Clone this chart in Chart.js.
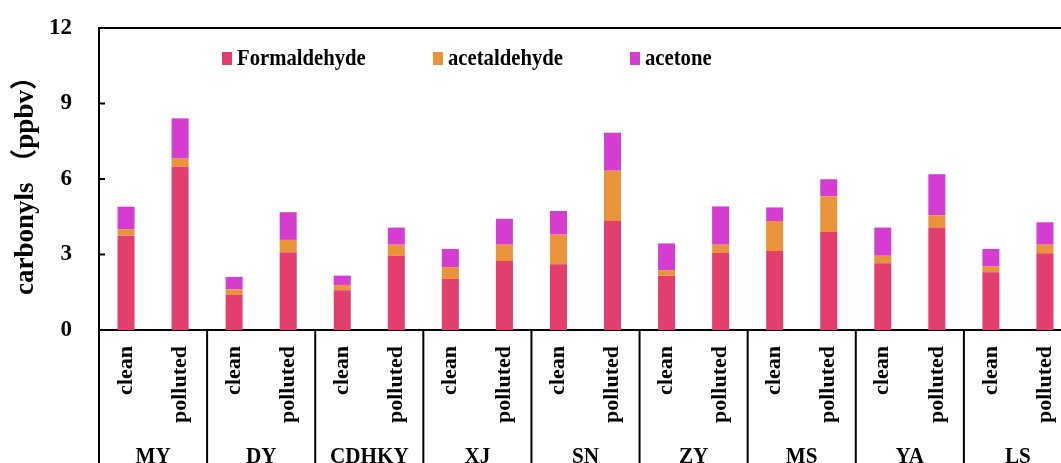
<!DOCTYPE html>
<html>
<head>
<meta charset="utf-8">
<script src="https://cdn.jsdelivr.net/npm/chart.js@4/dist/chart.umd.min.js"></script>
<style>
  html, body { margin: 0; padding: 0; background: #fff; overflow: hidden; }
  #wrap { width: 1072px; height: 463px; }
</style>
</head>
<body>
<div id="wrap"><canvas id="c" width="1072" height="463"></canvas></div>
<script>
// Sampling sites and the two conditions measured at each
const sites = ['MY', 'DY', 'CDHKY', 'XJ', 'SN', 'ZY', 'MS', 'YA', 'LS'];
const conditions = ['clean', 'polluted'];

// Mixing ratios (ppbv), ordered site by site: clean, polluted
const formaldehyde = [3.75, 6.50, 1.39, 3.09, 1.58, 2.95, 2.03, 2.74, 2.61, 4.33, 2.16, 3.06, 3.14, 3.89, 2.65, 4.07, 2.29, 3.05];
const acetaldehyde = [0.26, 0.31, 0.23, 0.49, 0.21, 0.44, 0.47, 0.65, 1.18, 2.00, 0.22, 0.33, 1.19, 1.42, 0.30, 0.49, 0.23, 0.34];
const acetone      = [0.89, 1.60, 0.49, 1.10, 0.37, 0.68, 0.72, 1.03, 0.94, 1.51, 1.06, 1.52, 0.54, 0.68, 1.12, 1.63, 0.70, 0.89];

// Y axis ticks
const yTicks = [0, 3, 6, 9, 12];

const labels = [];
sites.forEach(() => conditions.forEach(c => labels.push(c)));

const FONT = "'Liberation Serif', 'Times New Roman', 'Noto Sans CJK SC', serif";

// Frame, group separators, inner ticks, group names and the legend
const framePlugin = {
  id: 'frame',
  afterDraw(chart) {
    const ctx = chart.ctx;
    const area = chart.chartArea;
    const xs = chart.scales.x;
    const ys = chart.scales.y;
    const H = chart.height;
    ctx.save();
    ctx.strokeStyle = '#000';
    ctx.lineWidth = 2;
    // top border
    ctx.beginPath();
    ctx.moveTo(area.left, area.top);
    ctx.lineTo(chart.width, area.top);
    ctx.stroke();
    // left axis continues down through the label area
    ctx.beginPath();
    ctx.moveTo(area.left, area.top);
    ctx.lineTo(area.left, H);
    ctx.stroke();
    // separators between sites
    const n = conditions.length;
    const step = xs.getPixelForValue(1) - xs.getPixelForValue(0);
    for (let s = 1; s <= sites.length; s++) {
      const x = xs.getPixelForValue(s * n - 1) + step / 2;
      ctx.beginPath();
      ctx.moveTo(x, area.bottom);
      ctx.lineTo(x, H);
      ctx.stroke();
    }
    // inward tick marks on the y axis
    yTicks.forEach(v => {
      const y = ys.getPixelForValue(v);
      ctx.beginPath();
      ctx.moveTo(area.left, y);
      ctx.lineTo(area.left + 6, y);
      ctx.stroke();
    });
    // site names
    ctx.fillStyle = '#000';
    ctx.font = 'bold 23px ' + FONT;
    ctx.textAlign = 'center';
    ctx.textBaseline = 'alphabetic';
    sites.forEach((s, i) => {
      const x = (xs.getPixelForValue(i * n) + xs.getPixelForValue(i * n + n - 1)) / 2;
      ctx.save();
      ctx.translate(x, 463);
      ctx.scale(0.92, 1);
      ctx.fillText(s, 0, 0);
      ctx.restore();
    });
    // legend inside the plot
    const legendX = [222, 433, 630];
    ctx.font = 'bold 23px ' + FONT;
    ctx.textAlign = 'left';
    ctx.textBaseline = 'middle';
    chart.data.datasets.forEach((ds, i) => {
      ctx.fillStyle = ds.backgroundColor;
      ctx.fillRect(legendX[i], 52, 10, 13);
      ctx.fillStyle = '#000';
      ctx.save();
      ctx.translate(legendX[i] + 15, 59);
      ctx.scale(0.9, 1);
      ctx.fillText(ds.label, 0, 0);
      ctx.restore();
    });
    ctx.restore();
  }
};

new Chart(document.getElementById('c'), {
  type: 'bar',
  data: {
    labels: labels,
    datasets: [
      { label: 'Formaldehyde', data: formaldehyde, backgroundColor: '#E23E6E' },
      { label: 'acetaldehyde', data: acetaldehyde, backgroundColor: '#E9933A' },
      { label: 'acetone', data: acetone, backgroundColor: '#D53DD0' }
    ]
  },
  options: {
    responsive: false,
    animation: false,
    devicePixelRatio: 1,
    layout: { padding: { top: 28, left: 0, right: 0, bottom: 0 } },
    datasets: { bar: { categoryPercentage: 1, barPercentage: 0.315 } },
    plugins: { legend: { display: false }, tooltip: { enabled: false } },
    scales: {
      x: {
        stacked: true,
        grid: { display: false, drawTicks: false },
        border: { display: true, color: '#000', width: 2 },
        ticks: {
          color: '#000',
          font: { family: FONT, size: 22, weight: 'bold' },
          minRotation: 90,
          maxRotation: 90,
          padding: 16,
          autoSkip: false
        },
        afterFit(scale) {
          scale.height = 133;
          scale.paddingLeft = 0;
          scale.paddingRight = 0;
        }
      },
      y: {
        stacked: true,
        min: yTicks[0],
        max: yTicks[yTicks.length - 1],
        grid: { display: false, drawTicks: false },
        border: { display: true, color: '#000', width: 2 },
        ticks: {
          stepSize: 3,
          color: '#000',
          font: { family: FONT, size: 23, weight: 'bold' },
          padding: 27
        },
        title: {
          display: true,
          text: 'carbonyls （ppbv）',
          color: '#000',
          font: { family: FONT, size: 27, weight: 'bold' },
          padding: { top: 10, bottom: 0 }
        },
        afterFit(scale) {
          scale.width = 99;
          scale.paddingTop = 0;
          scale.paddingBottom = 0;
        }
      }
    }
  },
  plugins: [framePlugin]
});
</script>
</body>
</html>
